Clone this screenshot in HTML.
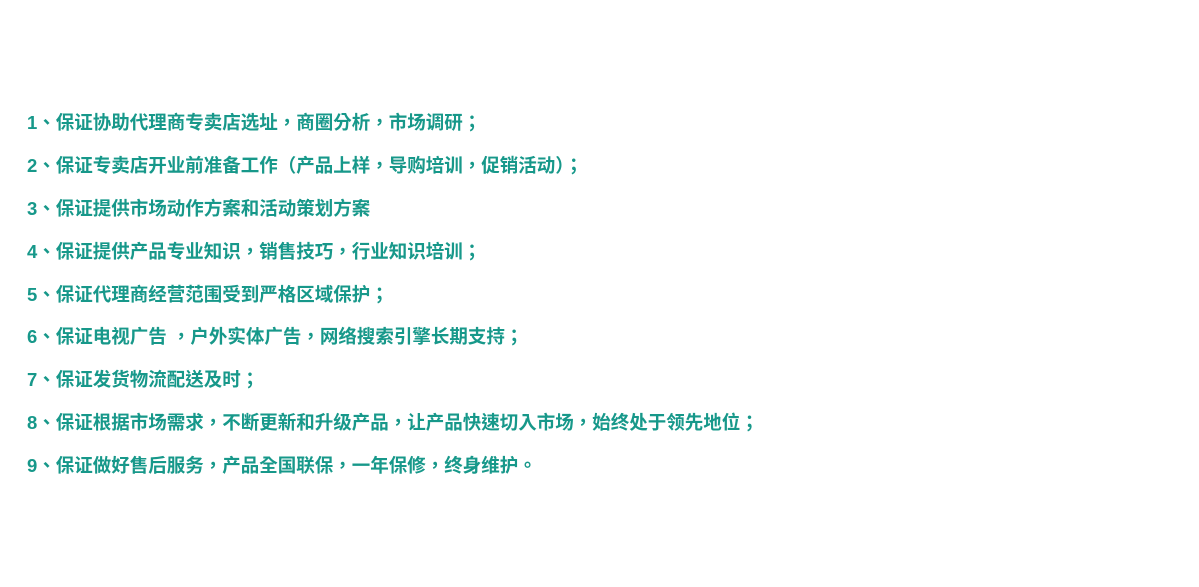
<!DOCTYPE html>
<html><head><meta charset="utf-8"><style>
html,body{margin:0;padding:0;background:#fff;width:1199px;height:587px;overflow:hidden}
.w{position:absolute;left:27px;top:110px;font-family:"Liberation Sans","Noto Sans CJK TC",sans-serif;font-size:18.5px;color:#17988a;font-weight:bold}
.w div{height:42.9px;line-height:26px;white-space:nowrap}
</style></head><body><div class="w">
<div>1、保证协助代理商专卖店选址，商圈分析，市场调研；</div>
<div>2、保证专卖店开业前准备工作（产品上样，导购培训，促销活动）；</div>
<div>3、保证提供市场动作方案和活动策划方案</div>
<div>4、保证提供产品专业知识，销售技巧，行业知识培训；</div>
<div>5、保证代理商经营范围受到严格区域保护；</div>
<div>6、保证电视广告 ，户外实体广告，网络搜索引擎长期支持；</div>
<div>7、保证发货物流配送及时；</div>
<div>8、保证根据市场需求，不断更新和升级产品，让产品快速切入市场，始终处于领先地位；</div>
<div>9、保证做好售后服务，产品全国联保，一年保修，终身维护。</div>
</div></body></html>
